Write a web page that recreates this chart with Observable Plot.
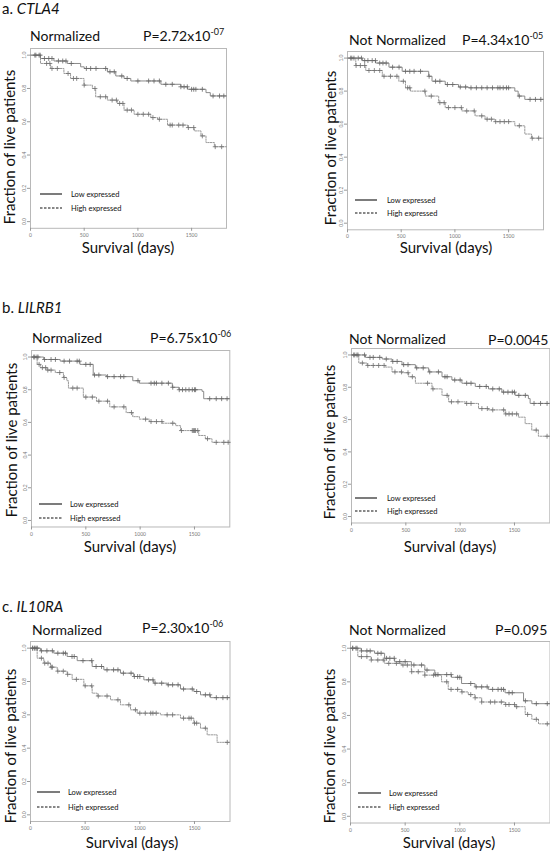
<!DOCTYPE html>
<html><head><meta charset="utf-8">
<script src="https://cdn.jsdelivr.net/npm/d3@7"></script>
<script src="https://cdn.jsdelivr.net/npm/@observablehq/plot@0.6"></script>
<style>
body{margin:0;background:#fff;}
#root{position:relative;width:550px;height:851px;overflow:hidden;font-family:Lato,"Open Sans",sans-serif;}
.plot{position:absolute;}
#overlay{position:absolute;left:0;top:0;pointer-events:none;}
</style></head><body><div id="root"></div>
<script>
// ---------- DATA ----------
const xTicks = [0, 500, 1000, 1500];
const yTicks = [0, 0.2, 0.4, 0.6, 0.8, 1.0];
const legendLabels = ["Low expressed", "High expressed"];
const xLabel = "Survival (days)";
const yLabel = "Fraction of live patients";
const genes = ["CTLA4", "LILRB1", "IL10RA"];
const letters = ["a.", "b.", "c."];
const panelTitles = ["Normalized", "Not Normalized"];
const pMantissa = ["2.72x10", "4.34x10", "6.75x10", "P=0.0045", "2.30x10", "P=0.095"];
const pExponent = ["-07", "-05", "-06", "", "-06", ""];

// Kaplan-Meier step curves: [day, fraction alive]
const ctla4NormLow = [[0,1],[93,0.98],[218,0.965],[342,0.95],[467,0.93],[500,0.92],[716,0.9],[794,0.875],[871,0.86],[934,0.845],[1214,0.825],[1400,0.81],[1463,0.795],[1634,0.775],[1674,0.755],[1825,0.755]];
const ctla4NormHigh = [[0,1],[93,0.95],[187,0.92],[311,0.89],[373,0.86],[498,0.82],[576,0.8],[607,0.75],[716,0.73],[809,0.71],[871,0.67],[965,0.645],[1120,0.625],[1183,0.615],[1276,0.58],[1463,0.565],[1525,0.545],[1587,0.515],[1634,0.475],[1712,0.45],[1825,0.45]];
const ctla4RawLow = [[0,1],[139,0.985],[262,0.97],[386,0.945],[509,0.92],[756,0.89],[787,0.86],[910,0.84],[1034,0.825],[1126,0.82],[1558,0.8],[1589,0.77],[1651,0.75],[1825,0.75]];
const ctla4RawHigh = [[0,1],[77,0.955],[170,0.925],[324,0.89],[478,0.86],[540,0.82],[586,0.8],[725,0.77],[849,0.73],[910,0.7],[1065,0.68],[1188,0.65],[1281,0.63],[1373,0.615],[1558,0.59],[1651,0.54],[1713,0.515],[1825,0.515]];
const lilrb1NormLow = [[0,1],[112,0.985],[264,0.975],[446,0.955],[568,0.89],[689,0.88],[932,0.855],[993,0.84],[1296,0.815],[1357,0.8],[1570,0.79],[1585,0.745],[1825,0.745]];
const lilrb1NormHigh = [[0,1],[52,0.955],[82,0.935],[143,0.92],[219,0.905],[294,0.875],[325,0.855],[340,0.81],[477,0.755],[598,0.73],[720,0.695],[871,0.66],[932,0.635],[993,0.62],[1084,0.605],[1205,0.595],[1327,0.58],[1372,0.55],[1539,0.52],[1600,0.5],[1661,0.478],[1825,0.478]];
const lilrb1RawLow = [[0,1],[129,0.985],[282,0.975],[373,0.96],[465,0.94],[588,0.92],[710,0.895],[833,0.865],[924,0.845],[1016,0.825],[1139,0.805],[1261,0.79],[1384,0.77],[1506,0.75],[1628,0.73],[1644,0.7],[1825,0.7]];
const lilrb1RawHigh = [[0,1],[67,0.95],[144,0.935],[312,0.925],[373,0.895],[465,0.89],[526,0.865],[588,0.825],[741,0.79],[833,0.75],[894,0.71],[1047,0.7],[1169,0.668],[1261,0.66],[1414,0.635],[1537,0.615],[1598,0.575],[1659,0.535],[1720,0.497],[1825,0.497]];
const il10raNormLow = [[0,1],[91,0.984],[213,0.97],[335,0.95],[427,0.925],[564,0.89],[671,0.87],[823,0.85],[945,0.83],[1037,0.81],[1128,0.79],[1250,0.78],[1372,0.755],[1494,0.74],[1555,0.72],[1646,0.703],[1825,0.703]];
const il10raNormHigh = [[0,1],[61,0.94],[122,0.91],[183,0.886],[244,0.862],[335,0.843],[381,0.813],[488,0.774],[564,0.73],[610,0.713],[732,0.69],[823,0.66],[915,0.63],[976,0.61],[1189,0.6],[1372,0.58],[1494,0.55],[1555,0.52],[1616,0.48],[1707,0.435],[1825,0.435]];
const il10raRawLow = [[0,1],[98,0.984],[220,0.97],[312,0.94],[404,0.92],[557,0.9],[680,0.87],[771,0.843],[924,0.827],[1016,0.79],[1139,0.77],[1261,0.755],[1414,0.735],[1583,0.687],[1659,0.67],[1825,0.67]];
const il10raRawHigh = [[0,1],[67,0.95],[190,0.93],[312,0.91],[465,0.9],[557,0.86],[680,0.84],[833,0.8],[894,0.755],[1016,0.74],[1077,0.724],[1139,0.705],[1200,0.68],[1414,0.665],[1506,0.652],[1598,0.606],[1659,0.577],[1720,0.55],[1825,0.55]];

// censored observations (days)
const ctla4NormLowCens = [50,90,130,170,200,260,300,330,380,520,560,610,700,740,780,850,900,1000,1100,1150,1200,1260,1320,1400,1430,1460,1500,1520,1540,1600,1700,1760,1800];
const ctla4NormHighCens = [40,80,150,180,200,250,350,400,430,500,600,650,700,760,800,830,860,900,940,1000,1050,1100,1140,1200,1300,1320,1380,1420,1470,1520,1600,1720,1780];
const ctla4RawLowCens = [30,60,100,130,160,190,230,260,300,330,360,420,480,540,580,620,680,760,820,860,930,980,1050,1100,1150,1200,1250,1300,1350,1400,1420,1450,1480,1500,1600,1700,1750,1800];
const ctla4RawHighCens = [40,80,120,160,200,250,300,340,400,460,520,560,580,720,780,860,900,940,1000,1060,1110,1180,1250,1300,1340,1380,1420,1460,1500,1600,1720,1780];
const lilrb1NormLowCens = [30,60,120,180,220,300,350,420,440,500,540,580,620,700,760,820,850,980,1100,1130,1150,1200,1260,1300,1360,1390,1420,1450,1480,1500,1510,1640,1700,1750,1800];
const lilrb1NormHighCens = [20,50,70,100,130,150,180,260,300,380,420,500,560,620,700,760,850,920,1050,1100,1150,1200,1300,1380,1480,1490,1500,1510,1530,1620,1700,1770,1810];
const lilrb1RawLowCens = [20,50,120,170,200,260,320,380,420,480,520,600,660,720,800,860,880,950,1000,1060,1100,1180,1240,1300,1360,1400,1440,1480,1500,1540,1600,1680,1740,1800];
const lilrb1RawHighCens = [30,60,100,150,200,250,300,400,460,520,560,700,750,880,920,980,1060,1100,1200,1250,1300,1400,1420,1450,1480,1520,1700,1800];
const il10raNormLowCens = [20,40,60,100,150,200,250,300,320,380,400,480,560,600,650,700,760,800,850,920,950,980,1000,1080,1120,1140,1200,1260,1300,1350,1400,1480,1520,1600,1640,1700,1760,1800];
const il10raNormHighCens = [20,40,60,100,130,160,190,200,250,300,340,420,500,560,620,700,800,900,960,1000,1050,1100,1120,1150,1250,1300,1400,1450,1470,1500,1520,1600,1800];
const il10raRawLowCens = [20,50,100,150,180,250,280,330,360,400,450,500,580,650,700,780,800,880,920,980,1000,1100,1150,1200,1250,1300,1350,1380,1400,1450,1480,1600,1700,1800];
const il10raRawHighCens = [20,60,100,150,190,250,300,350,420,480,520,560,620,680,760,880,920,980,1020,1100,1140,1200,1280,1320,1380,1420,1450,1500,1520,1620,1700,1800];

// ---------- LAYOUT ----------
const panels = [
  {low: ctla4NormLow, high: ctla4NormHigh, lc: ctla4NormLowCens, hc: ctla4NormHighCens, box:[30,48.4,196,179.8]},
  {low: ctla4RawLow, high: ctla4RawHigh, lc: ctla4RawLowCens, hc: ctla4RawHighCens, box:[347,50.7,196,178.3]},
  {low: lilrb1NormLow, high: lilrb1NormHigh, lc: lilrb1NormLowCens, hc: lilrb1NormHighCens, box:[30.7,349.5,198.3,176.5]},
  {low: lilrb1RawLow, high: lilrb1RawHigh, lc: lilrb1RawLowCens, hc: lilrb1RawHighCens, box:[350.7,348,198.3,174.5]},
  {low: il10raNormLow, high: il10raNormHigh, lc: il10raNormLowCens, hc: il10raNormHighCens, box:[30,641,199.5,180]},
  {low: il10raRawLow, high: il10raRawHigh, lc: il10raRawLowCens, hc: il10raRawHighCens, box:[350,641,199.5,181.5]}
];
const ML = 24, MR = 1, MT = 1, MB = 16;
const root = document.getElementById("root");

function survAt(curve, day) {
  let v = curve[0][1];
  for (const [d, s] of curve) { if (d <= day) v = s; else break; }
  return v;
}

panels.forEach(p => {
  const [bx, by, bw, bh] = p.box;
  const toObj = c => c.map(([d, s]) => ({d, s}));
  const cens = (curve, days) => days.map(d => ({d, s: survAt(curve, d)}));
  const chart = Plot.plot({
    width: bw + ML + MR, height: bh + MT + MB,
    marginLeft: ML, marginRight: MR, marginTop: MT, marginBottom: MB,
    x: {domain: [0, 1825]}, y: {domain: [-0.04, 1.04]},
    style: {background: "transparent", overflow: "visible", fontFamily: "Lato, sans-serif"},
    marks: [
      Plot.frame({stroke: "#b8b8b8", strokeWidth: 1}),
      Plot.axisY({ticks: yTicks, tickFormat: d => d.toFixed(1), tickRotate: -90, tickSize: 3, tickPadding: 2, fontSize: 5, label: null, color: "#777", stroke: "#999"}),
      Plot.axisX({ticks: xTicks, tickFormat: d => String(d), tickSize: 3, tickPadding: 2, fontSize: 5, label: null, color: "#777", stroke: "#999"}),
      Plot.line(toObj(p.high), {x: "d", y: "s", curve: "step-after", stroke: "#9a9a9a", strokeWidth: 1, strokeDasharray: "1.5,1.2"}),
      Plot.line(toObj(p.low), {x: "d", y: "s", curve: "step-after", stroke: "#8a8a8a", strokeWidth: 1}),
      Plot.dot(cens(p.high, p.hc), {x: "d", y: "s", symbol: "plus", r: 1.7, stroke: "#707070", strokeWidth: 0.8}),
      Plot.dot(cens(p.low, p.lc), {x: "d", y: "s", symbol: "plus", r: 1.7, stroke: "#666", strokeWidth: 0.8})
    ]
  });
  chart.classList.add("plot");
  chart.style.left = (bx - ML) + "px";
  chart.style.top = (by - MT) + "px";
  root.appendChild(chart);
});

// ---------- TEXT OVERLAY ----------
const NS = "http://www.w3.org/2000/svg";
const ov = document.createElementNS(NS, "svg");
ov.setAttribute("id", "overlay"); ov.setAttribute("width", 550); ov.setAttribute("height", 851);
root.appendChild(ov);
function txt(x, y, parts, opts = {}) {
  const t = document.createElementNS(NS, "text");
  t.setAttribute("x", x); t.setAttribute("y", y);
  t.setAttribute("font-size", opts.size || 14);
  t.setAttribute("fill", opts.fill || "#111");
  if (opts.anchor) t.setAttribute("text-anchor", opts.anchor);
  if (opts.rotate) t.setAttribute("transform", `rotate(${opts.rotate},${x},${y})`);
  for (const pt of parts) {
    const s = document.createElementNS(NS, "tspan");
    s.textContent = pt.t;
    if (pt.italic) s.setAttribute("font-style", "italic");
    if (pt.size) s.setAttribute("font-size", pt.size);
    if (pt.dy) s.setAttribute("dy", pt.dy);
    t.appendChild(s);
  }
  ov.appendChild(t);
}
function line(x1, x2, y, dashed) {
  const l = document.createElementNS(NS, "line");
  l.setAttribute("x1", x1); l.setAttribute("x2", x2); l.setAttribute("y1", y); l.setAttribute("y2", y);
  l.setAttribute("stroke", "#111"); l.setAttribute("stroke-width", 1.1);
  if (dashed) l.setAttribute("stroke-dasharray", "2.5,1.5");
  ov.appendChild(l);
}

const rowLetterY = [14, 313, 612];
const rowTitleY = [[41, 45], [343, 344], [635, 635]];
const titleX = [32, 349];
const pX = [[143, 462], [150, 488], [142, 495]];
const pY = [[41, 45], [343, 345], [633, 635]];
const fracX = [[15, 336], [16.5, 335], [15.5, 335]];
const fracY = [[147, 148], [440, 442], [746, 746]];
const survY = [253, 552, 848];
const survX = [[128, 446], [130, 450], [132, 449]];
const legX = [[[40, 62, 71], [355, 377, 387]], [[39, 62, 70], [355, 377, 387]], [[37, 60, 68], [358, 381, 389]]];
const legY = [[[194, 208], [200, 213]], [[504, 518], [498, 511]], [[792, 807], [793, 807]]];

for (let r = 0; r < 3; r++) {
  txt(2, rowLetterY[r], [{t: letters[r] + " "}, {t: genes[r], italic: true}], {size: 15});
  for (let c = 0; c < 2; c++) {
    txt(titleX[c] - (r === 0 && c === 0 ? 2 : 0), rowTitleY[r][c], [{t: panelTitles[c]}], {size: 14});
    const i = r * 2 + c;
    const parts = pExponent[i] ? [{t: "P=" + pMantissa[i]}, {t: pExponent[i], size: 9, dy: -6}] : [{t: pMantissa[i]}];
    txt(pX[r][c], pY[r][c], parts, {size: 14});
    txt(fracX[r][c], fracY[r][c], [{t: yLabel}], {size: 15, anchor: "middle", rotate: -90});
    txt(survX[r][c], survY[r], [{t: xLabel}], {size: 15, anchor: "middle"});
    const [l1, l2, tx] = legX[r][c];
    const [y1, y2] = legY[r][c];
    line(l1, l2, y1, false); line(l1, l2, y2, true);
    txt(tx, y1 + 2.7, [{t: legendLabels[0]}], {size: 7.5});
    txt(tx, y2 + 2.7, [{t: legendLabels[1]}], {size: 7.5});
  }
}
</script></body></html>
